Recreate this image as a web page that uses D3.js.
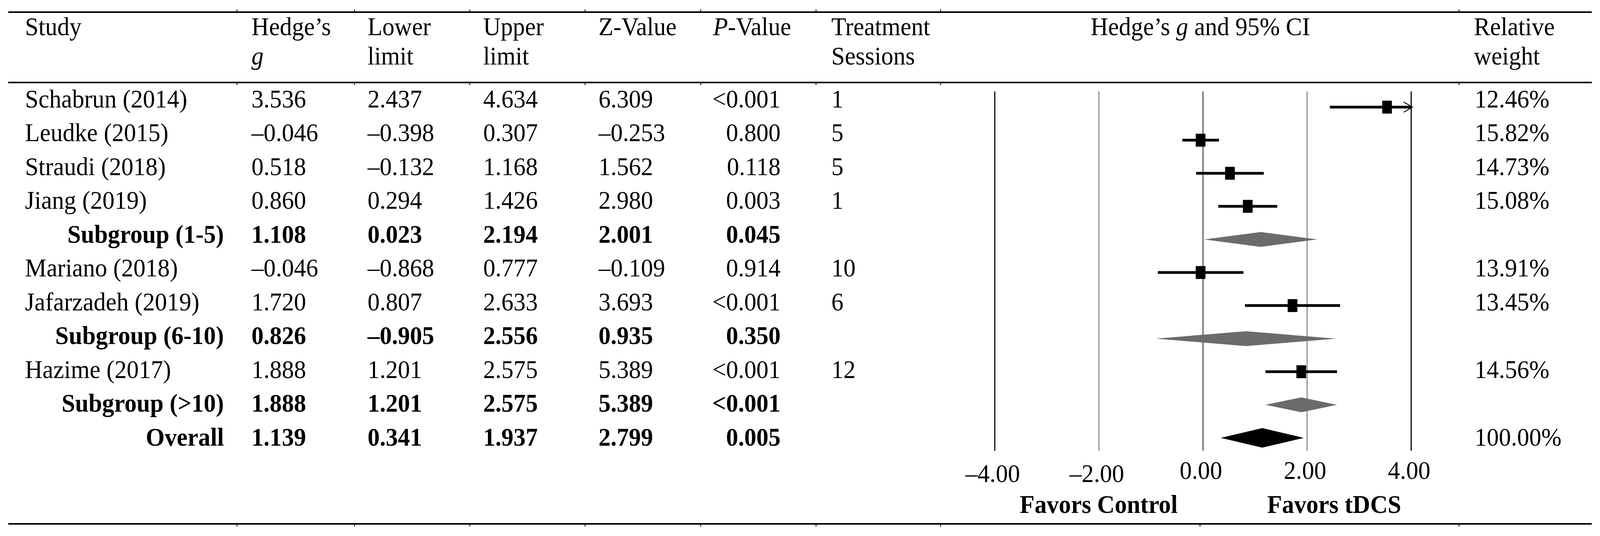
<!DOCTYPE html>
<html>
<head>
<meta charset="utf-8">
<script src="https://cdn.jsdelivr.net/npm/d3@7"></script>
<style>
  html, body { margin: 0; padding: 0; background: #fff; overflow: hidden; width: 100%; height: 100%; }
  #chart { width: 100vw; height: 100vh; }
  #chart svg { display: block; width: 100%; height: 100%; }
  svg text { font-family: "Liberation Serif", "Times New Roman", serif; fill: #000; }
</style>
</head>
<body>
<div id="chart"></div>
<script>
// 数据
const studies = ["Schabrun (2014)", "Leudke (2015)", "Straudi (2018)", "Jiang (2019)", "Subgroup (1-5)",
  "Mariano (2018)", "Jafarzadeh (2019)", "Subgroup (6-10)", "Hazime (2017)", "Subgroup (>10)", "Overall"];
const rowType = ["study", "study", "study", "study", "subgroup",
  "study", "study", "subgroup", "study", "subgroup", "overall"];
const hedgesG = [3.536, -0.046, 0.518, 0.860, 1.108, -0.046, 1.720, 0.826, 1.888, 1.888, 1.139];
const lowerLimit = [2.437, -0.398, -0.132, 0.294, 0.023, -0.868, 0.807, -0.905, 1.201, 1.201, 0.341];
const upperLimit = [4.634, 0.307, 1.168, 1.426, 2.194, 0.777, 2.633, 2.556, 2.575, 2.575, 1.937];
const zValues = [6.309, -0.253, 1.562, 2.980, 2.001, -0.109, 3.693, 0.935, 5.389, 5.389, 2.799];
const pValues = ["<0.001", "0.800", "0.118", "0.003", "0.045", "0.914", "<0.001", "0.350", "<0.001", "<0.001", "0.005"];
const sessions = ["1", "5", "5", "1", "", "10", "6", "", "12", "", ""];
const weights = ["12.46%", "15.82%", "14.73%", "15.08%", "", "13.91%", "13.45%", "", "14.56%", "", "100.00%"];
const axisTicks = [-4, -2, 0, 2, 4];

const W = 4288, H = 1371;
const FS = 65;

// 用 viewBox 铺满窗口
const svg = d3.select("#chart").append("svg")
  .attr("viewBox", `0 0 ${W} ${H}`)
  .attr("preserveAspectRatio", "none");

svg.append("rect").attr("width", W).attr("height", H).attr("fill", "#fff");

// 比例尺
const x = d3.scaleLinear().domain([-4, 4]).range([2666, 3782]);
const idx = d3.range(studies.length);
const yText = d3.scaleLinear().domain([0, studies.length - 1]).range([275, 1140]);
const yMark = d3.scaleLinear().domain([0, studies.length - 1]).range([274, 1120]);

const num = v => d3.format(".3f")(v).replace(/[-\u2212]/, "\u2013");
const isBold = i => rowType[i] !== "study";

// 表格线
const ruleX0 = 22, ruleX1 = 4266;
[31, 211, 1340].forEach(y => {
  svg.append("line").attr("x1", ruleX0).attr("x2", ruleX1).attr("y1", y).attr("y2", y)
    .attr("stroke", "#000").attr("stroke-width", 4);
});
const colBorders = [635, 950, 1259, 1568, 1878, 2187, 2521, 3910];
colBorders.forEach(cx => {
  svg.append("line").attr("x1", cx).attr("x2", cx).attr("y1", 24).attr("y2", 31).attr("stroke", "#000").attr("stroke-width", 2);
  svg.append("line").attr("x1", cx).attr("x2", cx).attr("y1", 211).attr("y2", 218).attr("stroke", "#000").attr("stroke-width", 2);
});
colBorders.concat([3216]).forEach(cx => {
  svg.append("line").attr("x1", cx).attr("x2", cx).attr("y1", 1340).attr("y2", 1347).attr("stroke", "#000").attr("stroke-width", 2);
});

// 表头
function header(xp, y, parts, anchor) {
  const t = svg.append("text").attr("x", xp).attr("y", y).attr("font-size", FS)
    .attr("text-anchor", anchor || "start");
  parts.forEach(p => {
    t.append("tspan").attr("font-style", p[1] ? "italic" : "normal").text(p[0]);
  });
}
header(67, 90, [["Study"]]);
header(674, 90, [["Hedge\u2019s"]]);
header(674, 165, [["g", true]]);
header(985, 90, [["Lower"]]);
header(985, 165, [["limit"]]);
header(1295, 90, [["Upper"]]);
header(1295, 165, [["limit"]]);
header(1604, 90, [["Z-Value"]]);
header(1911, 90, [["P", true], ["-Value"]]);
header(2228, 90, [["Treatment"]]);
header(2228, 165, [["Sessions"]]);
header(3217, 90, [["Hedge\u2019s "], ["g", true], [" and 95% CI"]], "middle");
header(3950, 90, [["Relative"]]);
header(3950, 165, [["weight"]]);

// 数据列
const columns = [
  { vals: studies, x: i => isBold(i) ? 600 : 67, anchor: i => isBold(i) ? "end" : "start", bold: isBold },
  { vals: hedgesG.map(num), x: () => 674, anchor: () => "start", bold: isBold },
  { vals: lowerLimit.map(num), x: () => 985, anchor: () => "start", bold: isBold },
  { vals: upperLimit.map(num), x: () => 1295, anchor: () => "start", bold: isBold },
  { vals: zValues.map(num), x: () => 1604, anchor: () => "start", bold: isBold },
  { vals: pValues, x: () => 2092, anchor: () => "end", bold: isBold },
  { vals: sessions, x: () => 2228, anchor: () => "start", bold: () => false },
  { vals: weights, x: () => 3952, anchor: () => "start", bold: () => false }
];

columns.forEach(col => {
  svg.append("g").selectAll("text").data(idx).join("text")
    .attr("x", i => col.x(i))
    .attr("y", i => yText(i))
    .attr("text-anchor", i => col.anchor(i))
    .attr("font-size", FS)
    .attr("font-weight", i => col.bold(i) ? "bold" : "normal")
    .text(i => col.vals[i]);
});

// 森林图参考线
const plotTop = 234, plotBottom = 1153;
svg.append("g").selectAll("line").data(axisTicks).join("line")
  .attr("x1", d => x(d)).attr("x2", d => x(d))
  .attr("y1", plotTop).attr("y2", plotBottom)
  .attr("stroke", d => Math.abs(d) === 4 ? "#000" : (d === 0 ? "#777" : "#8c8c8c"))
  .attr("stroke-width", d => d === 0 ? 4 : 3);

// 坐标轴标签
const axis = d3.axisBottom(x).tickValues(axisTicks).tickSize(0)
  .tickFormat(d => d.toFixed(2).replace("-", "\u2013"));
const gAxis = svg.append("g").attr("transform", "translate(-6,0)").call(axis);
gAxis.select(".domain").remove();
gAxis.selectAll("text")
  .attr("y", d => d < 0 ? 1233 : 1225)
  .attr("dy", null)
  .attr("font-size", FS)
  .attr("font-family", "Liberation Serif, serif")
  .attr("fill", "#000");

svg.append("text").attr("x", 2733).attr("y", 1312).attr("font-size", FS).attr("font-weight", "bold").text("Favors Control");
svg.append("text").attr("x", 3396).attr("y", 1312).attr("font-size", FS).attr("font-weight", "bold").text("Favors tDCS");

// 研究：置信区间 + 方块
const studyIdx = idx.filter(i => rowType[i] === "study");
const clip = v => Math.max(-4, Math.min(4, v));
svg.append("g").selectAll("line").data(studyIdx).join("line")
  .attr("x1", i => x(clip(lowerLimit[i])))
  .attr("x2", i => x(clip(upperLimit[i])))
  .attr("y1", i => yMark(i)).attr("y2", i => yMark(i))
  .attr("stroke", "#000").attr("stroke-width", 7);

// 超出范围的箭头
const arrowIdx = studyIdx.filter(i => upperLimit[i] > 4);
svg.append("g").selectAll("path").data(arrowIdx).join("path")
  .attr("d", i => {
    const ax = x(4), ay = yMark(i);
    return `M${ax - 20},${ay - 13}L${ax + 3},${ay}L${ax - 20},${ay + 13}`;
  })
  .attr("fill", "none").attr("stroke", "#000").attr("stroke-width", 2.5);

const sqW = 26, sqH = 33;
svg.append("g").selectAll("rect").data(studyIdx).join("rect")
  .attr("x", i => x(hedgesG[i]) - sqW / 2)
  .attr("y", i => yMark(i) - sqH / 2)
  .attr("width", sqW).attr("height", sqH)
  .attr("fill", "#000");

// 亚组与合并：菱形
const diaIdx = idx.filter(i => rowType[i] !== "study");
svg.append("g").selectAll("path").data(diaIdx).join("path")
  .attr("d", i => {
    const h = rowType[i] === "overall" ? 25 : 19;
    const cy = yMark(i);
    return `M${x(lowerLimit[i])},${cy}L${x(hedgesG[i])},${cy - h}L${x(upperLimit[i])},${cy}L${x(hedgesG[i])},${cy + h}Z`;
  })
  .attr("fill", i => rowType[i] === "overall" ? "#000" : "#6b6b6b");
</script>
</body>
</html>
